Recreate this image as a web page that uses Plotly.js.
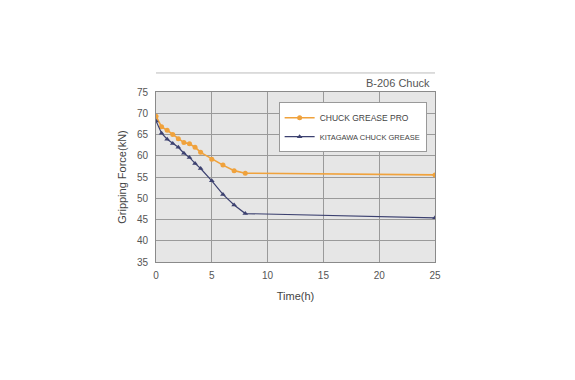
<!DOCTYPE html>
<html>
<head>
<meta charset="utf-8">
<script src="https://cdn.plot.ly/plotly-3.0.1.min.js"></script>
<style>html,body{margin:0;padding:0;background:#fff;}#chart{width:575px;height:380px;}</style>
</head>
<body>
<div id="chart"></div>
<script>
const timeHours = [0, 0.5, 1, 1.5, 2, 2.5, 3, 3.5, 4, 5, 6, 7, 8, 25];
const chuckGreasePro = [69.3, 66.8, 66.0, 65.0, 64.0, 63.1, 62.8, 62.0, 60.8, 59.2, 57.8, 56.5, 55.9, 55.5];
const kitagawaChuckGrease = [68.2, 65.3, 63.9, 62.9, 62.0, 60.6, 59.6, 58.2, 57.0, 54.1, 50.9, 48.4, 46.4, 45.4];
const xTicks = [0, 5, 10, 15, 20, 25];
const yTicks = [35, 40, 45, 50, 55, 60, 65, 70, 75];
const seriesNames = ['CHUCK GREASE PRO', 'KITAGAWA CHUCK GREASE'];
const chartTitle = 'B-206 Chuck';

const traces = [
  {
    x: timeHours, y: chuckGreasePro, name: seriesNames[0],
    type: 'scatter', mode: 'lines+markers',
    line: {color: '#f0a23c', width: 1.6},
    marker: {symbol: 'circle', size: 5, color: '#f0a23c'}
  },
  {
    x: timeHours, y: kitagawaChuckGrease,
    name: '<span style="font-size:7.5px">' + seriesNames[1] + '</span>',
    type: 'scatter', mode: 'lines+markers',
    line: {color: '#3c4170', width: 1.2},
    marker: {symbol: 'triangle-up', size: 5, color: '#3c4170'}
  }
];

const layout = {
  width: 575, height: 380,
  margin: {l: 156, r: 140, t: 92, b: 118, pad: 0},
  paper_bgcolor: '#ffffff',
  plot_bgcolor: '#e6e6e6',
  font: {family: 'Liberation Sans, Arial, sans-serif', color: '#555', size: 10},
  showlegend: true,
  legend: {
    x: 0.97, y: 0.94, xanchor: 'right', yanchor: 'top',
    bgcolor: '#ffffff', bordercolor: '#999', borderwidth: 1,
    font: {size: 8.5, color: '#444'},
    itemwidth: 30, tracegroupgap: 0
  },
  xaxis: {
    range: [0, 25], tickvals: xTicks, ticktext: xTicks.map(String),
    showgrid: true, gridcolor: '#9a9a9a', gridwidth: 1,
    zeroline: false, showline: true, mirror: true, linecolor: '#8a8a8a', linewidth: 1,
    ticks: 'outside', ticklen: 4, tickcolor: 'rgba(0,0,0,0)',
    tickfont: {size: 10, color: '#555'},
    title: {text: 'Time(h)', font: {size: 11, color: '#444'}, standoff: 12}
  },
  yaxis: {
    range: [35, 75], tickvals: yTicks, ticktext: yTicks.map(String),
    showgrid: true, gridcolor: '#9a9a9a', gridwidth: 1,
    zeroline: false, showline: true, mirror: true, linecolor: '#8a8a8a', linewidth: 1,
    ticks: 'outside', ticklen: 5, tickcolor: 'rgba(0,0,0,0)',
    tickfont: {size: 10, color: '#555'},
    title: {text: 'Gripping Force(kN)', font: {size: 11, color: '#444'}, standoff: 8}
  },
  shapes: [
    {type: 'line', xref: 'paper', yref: 'paper', x0: 0, x1: 1, y0: 1.112, y1: 1.112,
     line: {color: '#bbbbbb', width: 1}}
  ],
  annotations: [
    {text: chartTitle, xref: 'paper', yref: 'paper', x: 0.99, y: 1.053,
     xanchor: 'right', yanchor: 'middle', showarrow: false,
     font: {size: 11, color: '#555'}}
  ]
};

Plotly.newPlot('chart', traces, layout, {displayModeBar: false, staticPlot: true});
</script>
</body>
</html>
